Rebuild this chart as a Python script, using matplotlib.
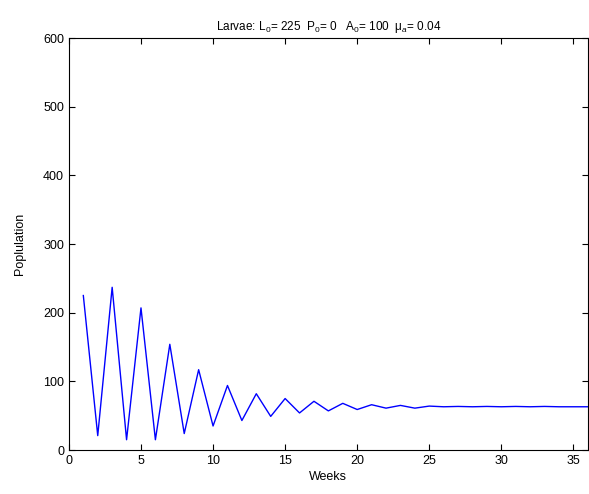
import matplotlib
matplotlib.use('Agg')
import matplotlib.pyplot as plt

# weekly larvae counts
weeks = list(range(1, 37))
larvae = [225, 21, 237, 15, 207, 15, 154, 24, 117, 35,
          94, 43, 82, 49, 75, 54, 71, 57, 68, 59,
          66, 61, 65, 61, 64, 63, 63.5, 63, 63.5, 63,
          63.5, 63, 63.5, 63, 63, 63]

plt.rcParams['font.family'] = ['Liberation Sans', 'DejaVu Sans']
plt.rcParams['mathtext.fontset'] = 'custom'
plt.rcParams['mathtext.rm'] = 'Liberation Sans'
plt.rcParams['mathtext.it'] = 'Liberation Sans:italic'

fig = plt.figure(figsize=(5.89, 4.94), dpi=100)
ax = fig.add_axes([0.117, 0.089, 0.881, 0.834])
ax.plot(weeks, larvae, color='#0000ff', linewidth=1.0)

ax.set_xlim(0, 36)
ax.set_ylim(0, 600)
ax.set_xticks(range(0, 36, 5))
ax.set_yticks(range(0, 601, 100))
ax.tick_params(direction='in', top=True, right=True, labelsize=9, length=4)
ax.set_xlabel('Weeks', fontsize=9, labelpad=3)
ax.set_ylabel('Poplulation', fontsize=9, labelpad=12)
ax.set_title('Larvae: L$_0$= 225  P$_0$= 0   A$_0$= 100  μ$_a$= 0.04',
             fontsize=8.5, pad=6)

fig.savefig('out.png', dpi=100)
